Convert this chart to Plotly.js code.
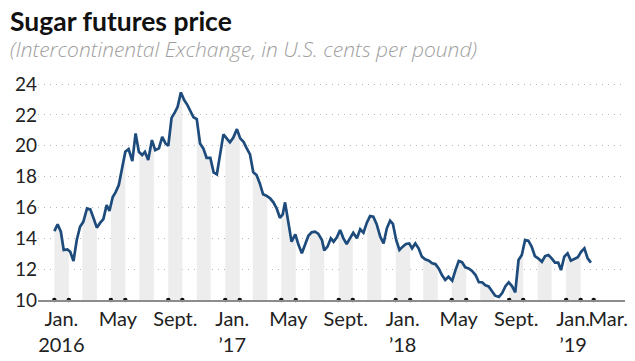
<!DOCTYPE html>
<html>
<head>
<meta charset="utf-8">
<script src="https://cdn.plot.ly/plotly-3.0.1.min.js"></script>
<style>
  html, body { margin: 0; padding: 0; background: #fff; }
  #chart { width: 635px; height: 361px; }
</style>
</head>
<body>
<div id="chart"></div>
<script>
// Weekly sugar futures price (ICE, U.S. cents per pound)
const dates = [
  '2016-01-01','2016-01-08','2016-01-15','2016-01-21','2016-01-29','2016-02-04','2016-02-11','2016-02-18','2016-02-25',
  '2016-03-03','2016-03-11','2016-03-18','2016-03-25','2016-04-01','2016-04-08','2016-04-15','2016-04-22','2016-04-28',
  '2016-05-05','2016-05-11','2016-05-18','2016-05-25','2016-06-01','2016-06-08','2016-06-16','2016-06-23','2016-06-30',
  '2016-07-07','2016-07-13','2016-07-20','2016-07-28','2016-08-04','2016-08-12','2016-08-19','2016-08-26','2016-09-01',
  '2016-09-08','2016-09-15','2016-09-21','2016-09-28','2016-10-05','2016-10-12','2016-10-18','2016-10-25','2016-11-01',
  '2016-11-08','2016-11-15','2016-11-22','2016-11-30','2016-12-07','2016-12-14','2016-12-21','2016-12-28',
  '2017-01-04','2017-01-11','2017-01-18','2017-01-26','2017-02-02','2017-02-09','2017-02-16','2017-02-23',
  '2017-03-02','2017-03-09','2017-03-16','2017-03-23','2017-03-30','2017-04-07','2017-04-14','2017-04-21','2017-04-28',
  '2017-05-04','2017-05-09','2017-05-16','2017-05-23','2017-05-31','2017-06-07','2017-06-14','2017-06-21','2017-06-28',
  '2017-07-05','2017-07-12','2017-07-19','2017-07-27','2017-08-01','2017-08-08','2017-08-15','2017-08-21','2017-08-28',
  '2017-09-04','2017-09-11','2017-09-18','2017-09-25','2017-10-02','2017-10-10','2017-10-17','2017-10-24','2017-10-31',
  '2017-11-07','2017-11-14','2017-11-21','2017-11-29','2017-12-06','2017-12-13','2017-12-20','2017-12-26',
  '2018-01-02','2018-01-09','2018-01-16','2018-01-23','2018-01-30','2018-02-05','2018-02-12','2018-02-19','2018-02-26',
  '2018-03-05','2018-03-13','2018-03-20','2018-03-27','2018-04-03','2018-04-10','2018-04-17','2018-04-24','2018-05-02',
  '2018-05-09','2018-05-16','2018-05-23','2018-05-30','2018-06-06','2018-06-13','2018-06-21','2018-06-28','2018-07-05',
  '2018-07-12','2018-07-19','2018-07-26','2018-08-02','2018-08-10','2018-08-17','2018-08-24','2018-08-31','2018-09-07',
  '2018-09-14','2018-09-21','2018-09-28','2018-10-05','2018-10-12','2018-10-19','2018-10-26','2018-11-02','2018-11-10',
  '2018-11-17','2018-11-24','2018-12-01','2018-12-08','2018-12-15','2018-12-21','2018-12-28',
  '2019-01-04','2019-01-11','2019-01-18','2019-01-26','2019-02-02','2019-02-09','2019-02-16','2019-02-23'
];
const prices = [
  14.47,14.90,14.43,13.24,13.28,13.13,12.53,13.89,14.75,
  15.07,15.94,15.88,15.30,14.69,15.00,15.25,16.16,15.77,
  16.68,16.98,17.45,18.43,19.61,19.79,19.00,20.80,19.61,
  19.40,19.61,19.07,20.37,19.72,19.83,20.58,20.15,20.00,
  21.81,22.16,22.53,23.46,22.96,22.64,22.25,21.85,21.73,
  20.15,19.83,19.22,19.22,18.28,18.15,19.61,20.74,
  20.48,20.22,20.52,21.08,20.48,20.26,19.83,19.44,
  18.28,18.10,17.56,16.85,16.76,16.59,16.33,15.94,15.33,
  15.55,16.33,15.07,13.78,14.26,13.56,13.03,13.67,14.17,
  14.39,14.43,14.30,13.89,13.22,13.46,14.00,13.78,14.06,
  14.54,14.00,13.63,14.00,14.36,14.00,14.58,14.36,15.00,
  15.44,15.40,14.93,14.10,13.67,14.65,15.14,14.93,
  13.89,13.24,13.46,13.63,13.67,13.35,13.67,13.35,12.81,
  12.64,12.55,12.38,12.33,12.05,11.62,11.30,11.51,11.25,
  11.94,12.53,12.45,12.12,12.05,11.90,11.62,11.15,11.15,
  10.95,10.88,10.60,10.28,10.20,10.45,10.90,11.15,10.90,
  10.50,12.59,12.92,13.89,13.85,13.46,12.85,12.70,12.48,
  12.85,12.92,12.70,12.42,12.42,11.94,12.81,
  13.03,12.55,12.64,12.77,13.13,13.35,12.70,12.42
];

// Axis labels (placed mid-month)
const tickDates = ['2016-01-16','2016-05-16','2016-09-16','2017-01-16','2017-05-16','2017-09-16',
                   '2018-01-16','2018-05-16','2018-09-16','2019-01-16','2019-04-01'];
const tickLabels = ['Jan.<br>2016','May','Sept.','Jan.<br>\u201917','May','Sept.',
                    'Jan.<br>\u201918','May','Sept.','Jan.<br>\u201919','Mar.'];
const yTicks = [10,12,14,16,18,20,22,24];

// Month-edge markers along the baseline
const markerDates = ['2016-01-01','2016-02-01','2016-05-01','2016-06-01','2016-09-01','2016-10-01',
                     '2017-01-01','2017-02-01','2017-05-01','2017-06-01','2017-09-01','2017-10-01',
                     '2018-01-01','2018-02-01','2018-05-01','2018-06-01','2018-09-01','2018-10-01',
                     '2019-01-01','2019-02-01','2019-03-01'];

// Shaded months (every other month, starting with January)
const shadedMonths = [0,2,4,6,8,10];
const shadedYears = [2016,2017,2018,2019];

const FONT = "Lato, 'Open Sans', sans-serif";
const SUBFONT = "'Open Sans', Lato, sans-serif";
const T = dates.map(d => Date.parse(d));
const fmt = ms => new Date(ms).toISOString().slice(0,19).replace('T',' ');
function valueAt(t) {
  for (let i = 0; i < T.length - 1; i++) {
    if (t >= T[i] && t <= T[i+1]) {
      const f = (t - T[i]) / (T[i+1] - T[i]);
      return prices[i] + f * (prices[i+1] - prices[i]);
    }
  }
  return prices[prices.length - 1];
}

const traces = [];
const tEnd = T[T.length - 1];
shadedYears.forEach(y => {
  shadedMonths.forEach(m => {
    const s = Date.UTC(y, m, 1);
    let e = Date.UTC(y, m + 1, 1);
    if (s >= tEnd) return;
    if (e > tEnd) e = tEnd;
    const xs = [fmt(s)], ys = [valueAt(s)];
    T.forEach((t, i) => { if (t > s && t < e) { xs.push(fmt(t)); ys.push(prices[i]); } });
    xs.push(fmt(e)); ys.push(valueAt(e));
    traces.push({
      x: xs, y: ys, type: 'scatter', mode: 'lines', fill: 'tozeroy',
      fillcolor: '#ededed', line: { width: 0, color: 'rgba(0,0,0,0)' },
      hoverinfo: 'skip', showlegend: false
    });
  });
});

traces.push({
  x: dates, y: prices, type: 'scatter', mode: 'lines',
  line: { color: '#1d4b7c', width: 2.7 }, showlegend: false
});

traces.push({
  x: markerDates, y: markerDates.map(() => 10), type: 'scatter', mode: 'markers',
  marker: { color: '#111', size: 4.5 }, cliponaxis: false, hoverinfo: 'skip', showlegend: false
});

const layout = {
  width: 635, height: 361,
  margin: { l: 38, r: 10, t: 81, b: 61 },
  paper_bgcolor: '#fff', plot_bgcolor: '#fff',
  font: { family: FONT, color: '#222' },
  xaxis: {
    type: 'date', range: ['2015-11-27', '2019-05-07'],
    showgrid: false, zeroline: false,
    showline: true, linecolor: '#8c8c8c', linewidth: 2,
    tickmode: 'array', tickvals: tickDates, ticktext: tickLabels,
    tickangle: 0, automargin: false,
    ticks: '', tickfont: { family: FONT, size: 20, color: '#222' }
  },
  yaxis: {
    range: [10, 24.2], tickmode: 'array', tickvals: yTicks,
    showgrid: true, gridcolor: '#b5b5b5', gridwidth: 1, griddash: '1px,5px',
    zeroline: false, showline: false, ticks: '', automargin: false,
    tickfont: { family: FONT, size: 19, color: '#222' }
  },
  annotations: [
    { text: '<b>Sugar futures price</b>', xref: 'paper', yref: 'paper',
      x: (8 - 38) / 587, y: (300 - 3) / 219, xanchor: 'left', yanchor: 'top', showarrow: false,
      font: { family: FONT, size: 26.5, color: '#111' } },
    { text: '(Intercontinental Exchange, in U.S. cents per pound)', xref: 'paper', yref: 'paper',
      x: (8 - 38) / 587, y: (300 - 33) / 219, xanchor: 'left', yanchor: 'top', showarrow: false,
      font: { family: SUBFONT, size: 21, color: '#a0a0a0', style: 'italic', weight: 300 } }
  ]
};

Plotly.newPlot('chart', traces, layout, { displayModeBar: false, staticPlot: true });
</script>
</body>
</html>
